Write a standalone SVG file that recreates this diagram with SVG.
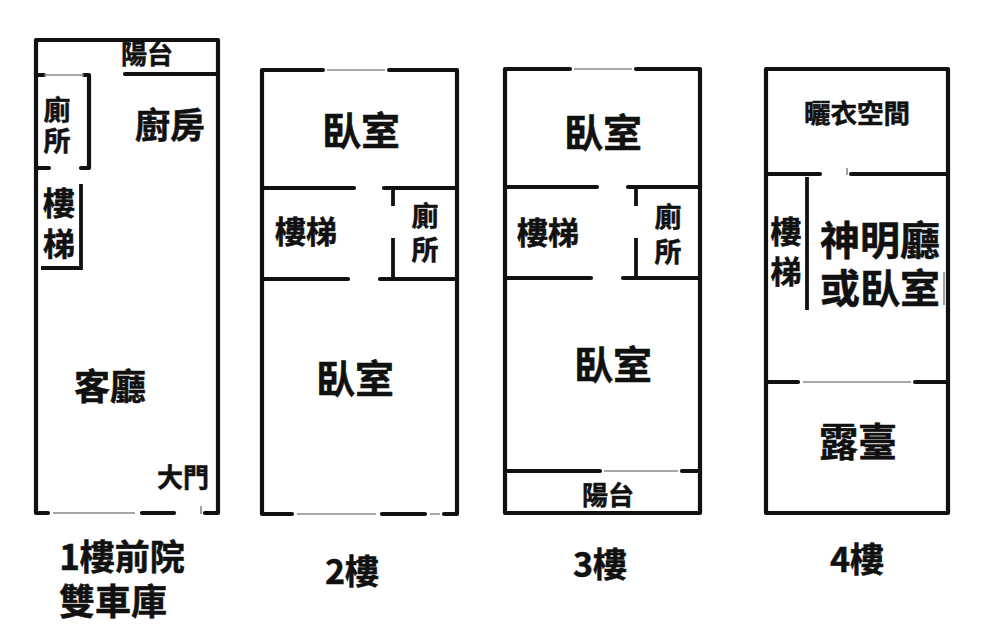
<svg xmlns="http://www.w3.org/2000/svg" width="1000" height="637" viewBox="0 0 1000 637">
<style>
.w{stroke:#111;stroke-width:4.2;fill:none;stroke-linecap:round;stroke-linejoin:round}
.t{stroke:#111;stroke-width:3.8;fill:none}
.g{stroke:#8a8a8a;stroke-width:1.6;fill:none}
text{font-family:"Noto Sans CJK TC","Noto Sans CJK SC",sans-serif;font-weight:700;fill:#111;stroke:#111;stroke-width:.5;text-anchor:middle}
</style>
<rect width="1000" height="637" fill="#fff"/>
<g id="connectors">
<path class="w" d="M48 513H36V40H218V513H205M125 74H218M142 513H174M36 75H44M36 168H49M81 168H89V75H84"/>
<path class="g" d="M44 75H84M53 513H135M201 506V514"/>
<path class="t" d="M81 184V268H41"/>
<path class="w" d="M323 70H262V514H292M389 70H457V514H444M382 514H425M262 188H354M384 188H457M262 279H348M380 279H457"/>
<path class="t" d="M393 188V206M393 238V279"/>
<path class="g" d="M327 70H385M297 514H376M430 514H440"/>
<path class="w" d="M570 69H505V513H700V69H636M505 187H597M628 187H700M505 278H591M623 278H700M505 471H600M682 471H700"/>
<path class="t" d="M636 187V206M636 238V278"/>
<path class="g" d="M574 69H632M604 471H678"/>
<path class="w" d="M766 69H948V513H766ZM766 174H820M851 174H948M766 382H798M915 382H948"/>
<path class="t" d="M807 177V310"/>
<path class="g" d="M803 382H911M944 272V305M847 168V175"/>
</g>
<g id="floor1">
<text x="147" y="64" font-size="26">陽台</text>
<text font-size="27"><tspan x="57" y="120">廁</tspan><tspan x="57" y="151">所</tspan></text>
<text x="170" y="138" font-size="35">廚房</text>
<text font-size="32"><tspan x="59" y="215">樓</tspan><tspan x="59" y="256">梯</tspan></text>
<text x="110" y="400" font-size="36">客廳</text>
<text x="183" y="487" font-size="26">大門</text>
<text font-size="35"><tspan x="122" y="570">1樓前院</tspan><tspan x="113" y="615" font-size="36">雙車庫</tspan></text>
</g>
<g id="floor2">
<text x="361" y="145" font-size="39">臥室</text>
<text x="306" y="243" font-size="31">樓梯</text>
<text font-size="27"><tspan x="425" y="226">廁</tspan><tspan x="425" y="260">所</tspan></text>
<text x="355" y="393" font-size="39">臥室</text>
<text x="352" y="584" font-size="34">2樓</text>
</g>
<g id="floor3">
<text x="603" y="147" font-size="39">臥室</text>
<text x="548" y="244" font-size="31">樓梯</text>
<text font-size="27"><tspan x="668" y="227">廁</tspan><tspan x="668" y="262">所</tspan></text>
<text x="613" y="379" font-size="39">臥室</text>
<text x="608" y="505" font-size="26">陽台</text>
<text x="600" y="577" font-size="34">3樓</text>
</g>
<g id="floor4">
<text x="857" y="123" font-size="26.5">曬衣空間</text>
<text font-size="31"><tspan x="786" y="243">樓</tspan><tspan x="786" y="283">梯</tspan></text>
<text font-size="40"><tspan x="880" y="255">神明廳</tspan><tspan x="880" y="303">或臥室</tspan></text>
<text x="858" y="456" font-size="39">露臺</text>
<text x="857" y="572" font-size="34">4樓</text>
</g>
</svg>
